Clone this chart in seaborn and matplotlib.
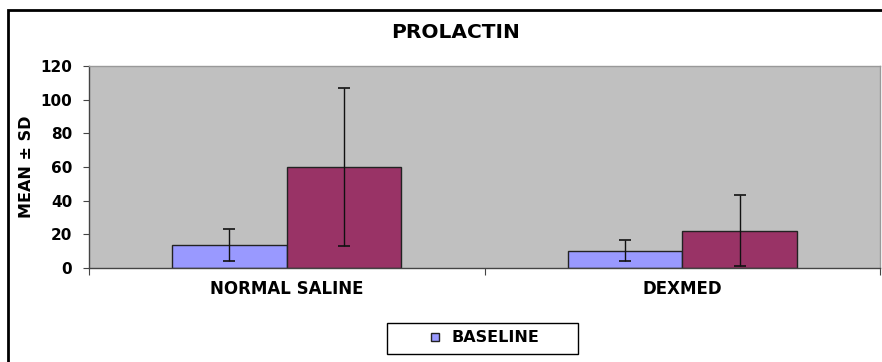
import pandas as pd
import seaborn as sns
import matplotlib.pyplot as plt
from matplotlib.patches import Rectangle

groups = ['NORMAL SALINE', 'DEXMED']
series = ['BASELINE', 'POST']
baseline_mean = [13.7, 10.3]
baseline_sd = [9.7, 6.4]
post_mean = [60.2, 22.2]
post_sd = [47.0, 21.0]
y_ticks = [0, 20, 40, 60, 80, 100, 120]

df = pd.DataFrame({
    'group': groups * 2,
    'time': [series[0]] * 2 + [series[1]] * 2,
    'mean': baseline_mean + post_mean,
    'sd': baseline_sd + post_sd,
})

sns.set_style('white')
plt.rcParams['font.family'] = ['DejaVu Sans']
plt.rcParams['font.weight'] = 'bold'
plt.rcParams['text.color'] = 'black'
plt.rcParams['axes.labelcolor'] = 'black'
plt.rcParams['xtick.color'] = 'black'
plt.rcParams['ytick.color'] = 'black'

fig = plt.figure(figsize=(8.82, 3.62), dpi=100)
ax = fig.add_axes([89 / 882, 1 - 268 / 362, 791 / 882, 202 / 362])
ax.set_facecolor('#C0C0C0')

sns.barplot(data=df, x='group', y='mean', hue='time', order=groups, hue_order=series,
            palette=['#9999FF', '#993366'], width=0.58, errorbar=None,
            edgecolor='#222222', linewidth=1, saturation=1, ax=ax, legend=False)

# error bars from the precomputed sd, at the drawn bar centres
for cont, sds in zip(ax.containers, [baseline_sd, post_sd]):
    for bar, sd in zip(cont, sds):
        xc = bar.get_x() + bar.get_width() / 2
        ax.errorbar(xc, bar.get_height(), yerr=sd, fmt='none', ecolor='#111111',
                    elinewidth=1, capsize=4, capthick=1.2)

ax.set_xlim(-0.5, 1.5)
ax.set_ylim(0, 120)
ax.set_yticks(y_ticks)
ax.set_yticklabels([str(t) for t in y_ticks], fontsize=11, fontweight='bold')
ax.set_xticks([-0.5, 0.5, 1.5])
ax.set_xticklabels([])
ax.set_xticks([0, 1], minor=True)
ax.set_xticklabels(groups, minor=True, fontsize=12, fontweight='bold')
ax.tick_params(axis='x', which='minor', length=0, pad=9)
ax.tick_params(axis='x', which='major', length=5, direction='out', color='#444444', bottom=True)
ax.tick_params(axis='y', length=4.5, direction='out', color='#444444', left=True, pad=7.5)
ax.set_xlabel('')
ax.set_ylabel('MEAN ± SD', fontsize=11.5, fontweight='bold')
ax.yaxis.set_label_coords(-0.0695, 0.5)

for side in ['left', 'bottom']:
    ax.spines[side].set_color('#444444')
    ax.spines[side].set_linewidth(1)
for side in ['top', 'right']:
    ax.spines[side].set_color('#999999')
    ax.spines[side].set_linewidth(1)

fig.text(456 / 882, 1 - 33 / 362, 'PROLACTIN', ha='center', va='center',
         fontsize=14.5, fontweight='bold')

# outer chart frame
fig.patches.append(Rectangle((8 / 882, -0.05), 1.0, 1 - 10 / 362 + 0.05,
                             transform=fig.transFigure, fill=False,
                             edgecolor='black', linewidth=2))

# legend box (only first entry visible)
fig.patches.append(Rectangle((387 / 882, 1 - 354 / 362), 191 / 882, 31 / 362,
                             transform=fig.transFigure, facecolor='white',
                             edgecolor='black', linewidth=1))
h = [plt.Line2D([], [], marker='s', linestyle='none', markersize=6,
                markerfacecolor='#9999FF', markeredgecolor='#222222')]
fig.legend(h, [series[0]], loc='center', bbox_to_anchor=(484 / 882, 1 - 338 / 362),
           frameon=False, prop={'size': 11.5, 'weight': 'bold'},
           handlelength=0.8, handletextpad=0.6)

fig.savefig('out.png', dpi=100, facecolor='white')
